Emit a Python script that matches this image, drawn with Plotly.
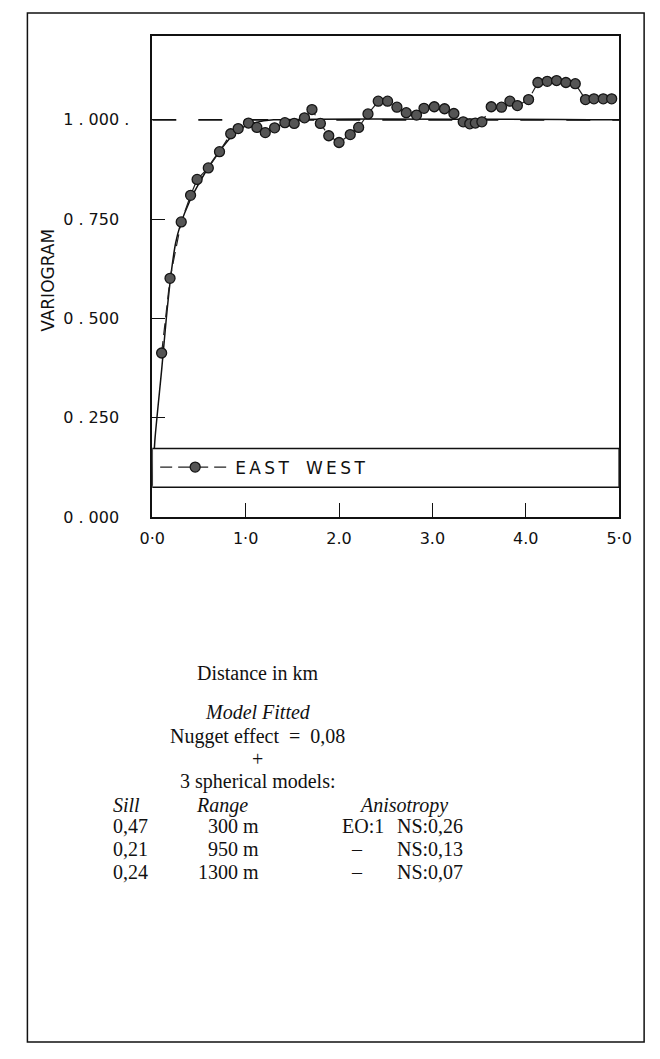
import plotly.graph_objects as go

# ---------------- data ----------------
dist_km = [0.10, 0.19, 0.31, 0.41, 0.48, 0.60, 0.72, 0.84, 0.92, 1.03, 1.12, 1.21, 1.31,
           1.42, 1.52, 1.63, 1.71, 1.80, 1.89, 2.00, 2.12, 2.21, 2.31, 2.42, 2.52, 2.62,
           2.72, 2.83, 2.91, 3.02, 3.13, 3.23, 3.33, 3.40, 3.46, 3.53, 3.63, 3.74, 3.83,
           3.91, 4.03, 4.13, 4.23, 4.33, 4.43, 4.53, 4.64, 4.73, 4.83, 4.92]
variogram_ew = [0.413, 0.601, 0.743, 0.810, 0.850, 0.879, 0.920, 0.965, 0.978, 0.992, 0.981,
                0.968, 0.980, 0.993, 0.991, 1.005, 1.026, 0.991, 0.960, 0.943, 0.963, 0.981,
                1.015, 1.047, 1.047, 1.032, 1.018, 1.012, 1.029, 1.033, 1.028, 1.016, 0.995,
                0.990, 0.992, 0.995, 1.033, 1.032, 1.047, 1.036, 1.051, 1.094, 1.097, 1.099,
                1.094, 1.091, 1.051, 1.053, 1.053, 1.053]

model_x = [0.0, 0.03, 0.10, 0.15, 0.20, 0.25, 0.30, 0.40, 0.50, 0.60, 0.70, 0.80, 0.90,
           1.00, 1.10, 1.30, 5.00]
model_y = [0.08, 0.20, 0.37, 0.50, 0.61, 0.69, 0.735, 0.795, 0.840, 0.880, 0.915, 0.945,
           0.970, 0.985, 0.993, 1.000, 1.000]

sill_x = [0.0, 5.0]
sill_y = [1.0, 1.0]

x_tickvals = [0, 1, 2, 3, 4, 5]
x_ticktext = ["0\u00b70", "1\u00b70", "2.0", "3.0", "4.0", "5\u00b70"]
y_tickvals = [0.0, 0.25, 0.5, 0.75, 1.0]
y_ticktext = ["0 . 000\u2007", "0 . 250\u2007", "0 . 500\u2007", "0 . 750\u2007", "1 . 000 ."]

series_name = "E\u2009A\u2009S\u2009T\u2003W\u2009E\u2009S\u2009T"
y_title = "VARIOGRAM"
caption_lines = ["Distance in km", "<i>Model Fitted</i>", "Nugget effect\u2002=\u20020,08", "+",
                 "3 spherical models:"]
table_header = ["<i>Sill</i>", "<i>Range</i>", "<i>Anisotropy</i>"]
table_sill = ["0,47", "0,21", "0,24"]
table_range = ["300 m", "950 m", "1300 m"]
table_aniso_eo = ["EO:1", "\u2013", "\u2013"]
table_aniso_ns = ["NS:0,26", "NS:0,13", "NS:0,07"]

# ---------------- layout helpers ----------------
W, H = 660, 1059
def px(x):
    return x / W
def py(y):
    return 1 - y / H

X0, X1 = 145, 631       # plot box in pixels
YTOP, YBOT = 36, 522
Y_RANGE = [0, (YBOT - YTOP) / 401.0]

fig = go.Figure()

fig.add_trace(go.Scatter(
    x=model_x, y=model_y, mode="lines",
    line=dict(color="#111111", width=1.5, shape="spline", smoothing=0.6),
    showlegend=False, hoverinfo="skip"))

fig.add_trace(go.Scatter(
    x=sill_x, y=sill_y, mode="lines",
    line=dict(color="#111111", width=1.6, dash="24px,22px"),
    showlegend=False, hoverinfo="skip"))

fig.add_trace(go.Scatter(
    x=dist_km, y=variogram_ew, mode="lines+markers", name=series_name,
    line=dict(color="#222222", width=1.2, dash="12px,6px"),
    marker=dict(symbol="circle", size=10, color="#555555",
                line=dict(color="#151515", width=1.3)),
    showlegend=True))

font_ax = dict(family="DejaVu Sans", size=16, color="#111111")

fig.update_layout(
    width=W, height=H,
    margin=dict(l=0, r=0, t=0, b=0),
    paper_bgcolor="white", plot_bgcolor="white",
    xaxis=dict(domain=[px(X0), px(X1)], range=[0, 5], showgrid=False, zeroline=False,
               showline=True, linecolor="#111111", linewidth=1.6, mirror=True,
               ticks="inside", ticklen=14, tickwidth=1.4, tickcolor="#111111",
               tickvals=x_tickvals, ticktext=x_ticktext, tickfont=font_ax,
               ticklabelstandoff=6),
    yaxis=dict(domain=[py(YBOT), py(YTOP)], range=Y_RANGE, showgrid=False, zeroline=False,
               showline=True, linecolor="#111111", linewidth=1.6, mirror=True,
               ticks="inside", ticklen=13, tickwidth=1.4, tickcolor="#111111",
               tickvals=y_tickvals, ticktext=y_ticktext, tickfont=font_ax,
               ticklabelstandoff=18),
    legend=dict(x=px(148), y=py(472), xanchor="left", yanchor="middle",
                bgcolor="rgba(0,0,0,0)", borderwidth=0,
                font=dict(family="DejaVu Sans", size=17, color="#111111"),
                itemwidth=70),
    showlegend=True,
)

# legend strip inside the plot
fig.add_shape(type="rect", xref="x", yref="y", x0=0, x1=5, y0=0.075, y1=0.1725,
              fillcolor="white", line=dict(color="#111111", width=1.5), layer="above")

# outer frame
fig.add_shape(type="rect", xref="paper", yref="paper", x0=px(15), x1=px(657),
              y0=py(1052), y1=py(13), line=dict(color="#111111", width=1.5),
              fillcolor="rgba(0,0,0,0)", layer="above")

# y axis title
fig.add_annotation(text=y_title, xref="paper", yref="paper", x=px(37), y=py(283),
                   textangle=-90, showarrow=False, xanchor="center", yanchor="middle",
                   font=dict(family="DejaVu Sans", size=17, color="#111111"))

serif = "Liberation Serif"
FS = 20
cap_y = [679, 719, 744, 766, 789]
for txt, yy in zip(caption_lines, cap_y):
    fig.add_annotation(text=txt, xref="paper", yref="paper", x=px(255), y=py(yy),
                       showarrow=False, xanchor="center", yanchor="middle",
                       font=dict(family=serif, size=FS, color="#111111"))

hdr_pos = [(102, "left"), (218, "center"), (406, "center")]
for txt, (xx, anc) in zip(table_header, hdr_pos):
    fig.add_annotation(text=txt, xref="paper", yref="paper", x=px(xx), y=py(813),
                       showarrow=False, xanchor=anc, yanchor="middle",
                       font=dict(family=serif, size=FS, color="#111111"))

row_y = [834, 857, 880]
for i, yy in enumerate(row_y):
    fig.add_annotation(text=table_sill[i], xref="paper", yref="paper", x=px(102), y=py(yy),
                       showarrow=False, xanchor="left", yanchor="middle",
                       font=dict(family=serif, size=FS, color="#111111"))
    fig.add_annotation(text=table_range[i], xref="paper", yref="paper", x=px(258), y=py(yy),
                       showarrow=False, xanchor="right", yanchor="middle",
                       font=dict(family=serif, size=FS, color="#111111"))
    fig.add_annotation(text=table_aniso_eo[i], xref="paper", yref="paper",
                       x=px(340 if i == 0 else 350), y=py(yy),
                       showarrow=False, xanchor="left", yanchor="middle",
                       font=dict(family=serif, size=FS, color="#111111"))
    fig.add_annotation(text=table_aniso_ns[i], xref="paper", yref="paper", x=px(398), y=py(yy),
                       showarrow=False, xanchor="left", yanchor="middle",
                       font=dict(family=serif, size=FS, color="#111111"))

fig.write_html("out.html")
